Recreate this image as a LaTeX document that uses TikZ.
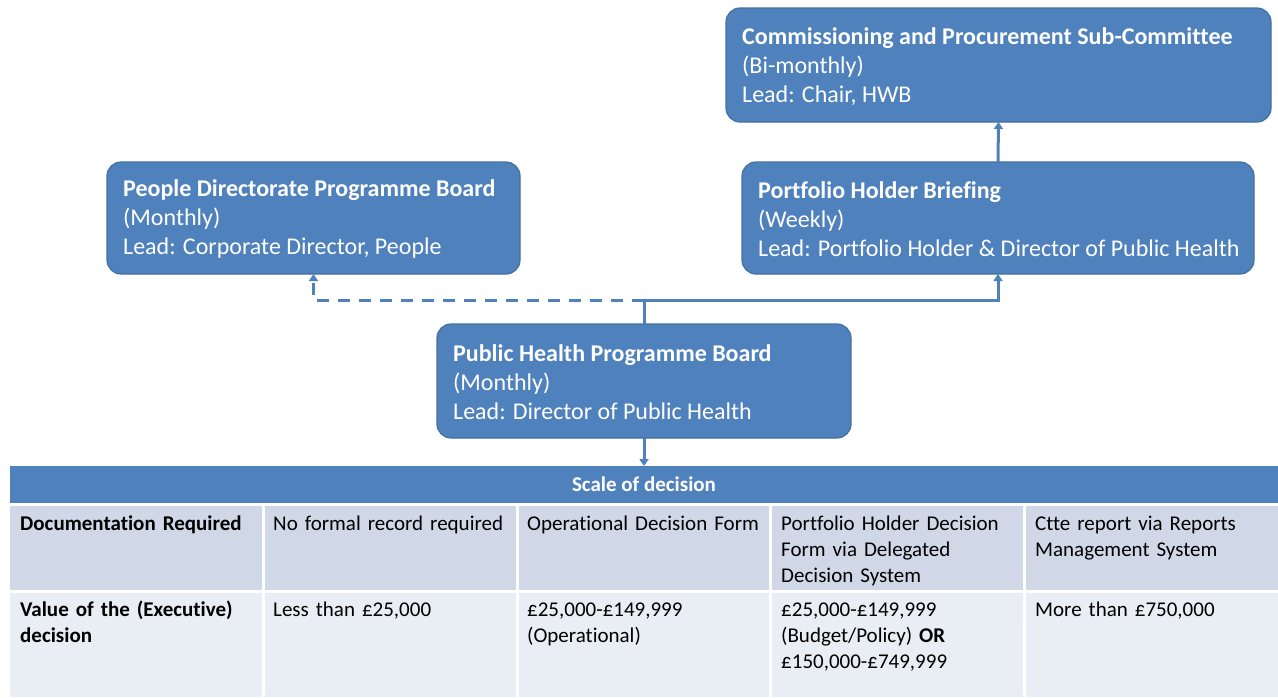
\documentclass[tikz,border=0pt]{standalone}
\usepackage{fontspec}
\setmainfont{Carlito}[Ligatures=NoCommon]
\usetikzlibrary{arrows.meta}
\definecolor{boxblue}{HTML}{4F81BD}
\definecolor{boxedge}{HTML}{41719C}
\definecolor{rowA}{HTML}{D0D8E8}
\definecolor{rowB}{HTML}{E9EDF4}
\begin{document}
\begin{tikzpicture}[x=1pt,y=-1pt,
  box/.style={draw=boxedge, line width=1.2pt, fill=boxblue, rounded corners=14pt, inner sep=0pt, outer sep=0pt, anchor=north west},
  boxtxt/.style={text=white, align=left, inner sep=0pt, anchor=west, font=\fontsize{24}{29}\selectfont},
  conn/.style={draw=boxblue, line width=3pt},
  tip/.style={-{Triangle[length=7pt,width=9pt]}},
  cell/.style={inner sep=0pt, outer sep=0pt, anchor=north west, minimum height=#1},
  ctxt/.style={inner sep=0pt, anchor=north west, align=left, text width=240pt, font=\fontsize{21}{26}\selectfont, execute at begin node=\strut},
]
\useasboundingbox (0,0) rectangle (1278,697);
% boxes
\node[box, minimum width=545pt, minimum height=114pt] (csc) at (726,8) {};
\node[boxtxt] (csct) at ([shift={(16,1.5)}]csc.west) {\textbf{Commissioning and Procurement Sub-Committee}\\(Bi-monthly)\\Lead: Chair, HWB};
\node[box, minimum width=413pt, minimum height=112pt] (pdb) at (107,162) {};
\node[boxtxt] (pdbt) at ([shift={(16,1.5)}]pdb.west) {\textbf{People Directorate Programme Board}\\(Monthly)\\Lead: Corporate Director, People};
\node[box, minimum width=512pt, minimum height=112pt] (pfb) at (742,162) {};
\node[boxtxt] (pfbt) at ([shift={(16,1.5)}]pfb.west) {\textbf{Portfolio Holder Briefing}\\(Weekly)\\Lead: Portfolio Holder \& Director of Public Health};
\node[box, minimum width=414pt, minimum height=114pt] (phb) at (437,324) {};
\node[boxtxt] (phbt) at ([shift={(16,1.5)}]phb.west) {\textbf{Public Health Programme Board}\\(Monthly)\\Lead: Director of Public Health};
% table
\node[cell=37pt, minimum width=1268pt, fill=boxblue] (hdr) at (10,466) {};
\node[text=white, font=\fontsize{21}{26}\selectfont\bfseries, inner sep=0pt] (hdrt) at (hdr.center) {Scale of decision};
\node[cell=84pt, minimum width=252pt, fill=rowA] (r1c1) at (10,506) {};
\node[cell=84pt, minimum width=251pt, fill=rowA] (r1c2) at (265,506) {};
\node[cell=84pt, minimum width=250pt, fill=rowA] (r1c3) at (519,506) {};
\node[cell=84pt, minimum width=251pt, fill=rowA] (r1c4) at (772,506) {};
\node[cell=84pt, minimum width=252pt, fill=rowA] (r1c5) at (1026,506) {};
\node[cell=104pt, minimum width=252pt, fill=rowB] (r2c1) at (10,593) {};
\node[cell=104pt, minimum width=251pt, fill=rowB] (r2c2) at (265,593) {};
\node[cell=104pt, minimum width=250pt, fill=rowB] (r2c3) at (519,593) {};
\node[cell=104pt, minimum width=251pt, fill=rowB] (r2c4) at (772,593) {};
\node[cell=104pt, minimum width=252pt, fill=rowB] (r2c5) at (1026,593) {};
\node[ctxt] (t11) at (20,512) {\textbf{Documentation Required}};
\node[ctxt] (t12) at (273,512) {No formal record required};
\node[ctxt] (t13) at (527,512) {Operational Decision Form};
\node[ctxt, text width=230pt] (t14) at (781,512) {Portfolio Holder Decision\\Form via Delegated\\Decision System};
\node[ctxt] (t15) at (1035,512) {Ctte report via Reports\\Management System};
\node[ctxt] (t21) at (20,598) {\textbf{Value of the (Executive)}\\\textbf{decision}};
\node[ctxt] (t22) at (273,598) {Less than £25,000};
\node[ctxt] (t23) at (527,598) {£25,000-£149,999\\(Operational)};
\node[ctxt] (t24) at (781,598) {£25,000-£149,999\\(Budget/Policy) \textbf{OR}\\£150,000-£749,999};
\node[ctxt] (t25) at (1035,598) {More than £750,000};
% connectors
\coordinate (j) at (phb.north |- 0,300);
\draw[conn, tip] (pfb.north) -- (csc.south);
\draw[conn] (phb.north) -- (j);
\draw[conn, tip] (j) -| (pfb.south);
\draw[conn, tip, dash pattern=on 12pt off 9pt] (j) -| (pdb.south);
\draw[conn, tip] (phb.south) -- (hdr.north -| phb.south);
\end{tikzpicture}
\end{document}
